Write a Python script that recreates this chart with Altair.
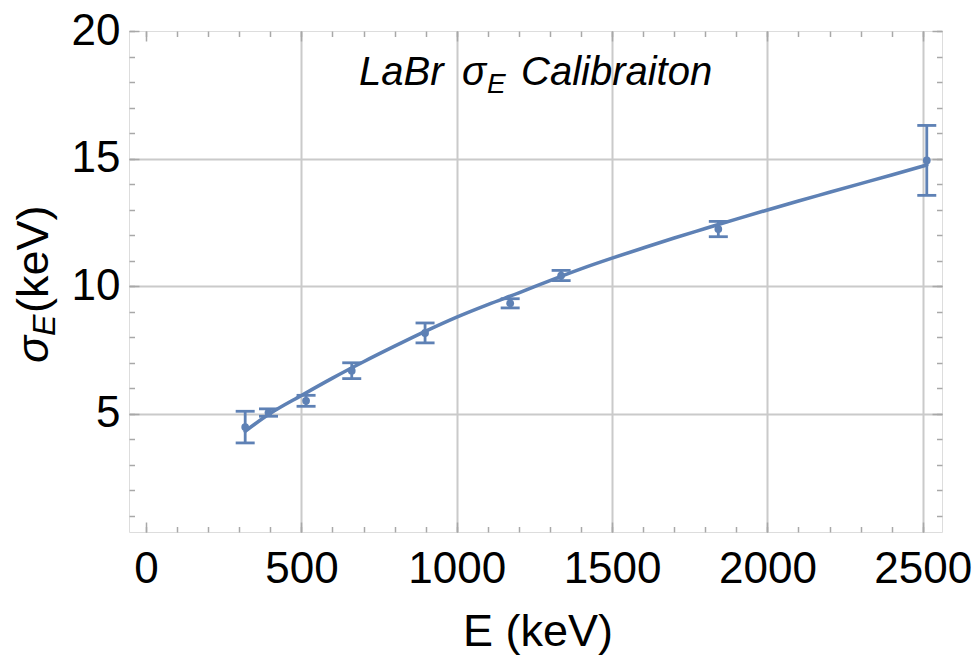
import altair as alt
import pandas as pd

# ---- data ----
energy = [319, 394, 515, 662, 898, 1172, 1336, 1842, 2513]
sigma = [4.48, 5.05, 5.51, 6.69, 8.17, 9.33, 10.42, 12.24, 14.93]
sigma_err = [0.62, 0.145, 0.215, 0.31, 0.39, 0.18, 0.20, 0.30, 1.37]

fit_energy = [319, 400, 500, 600, 700, 800, 900, 1000, 1100, 1200, 1300, 1400,
              1500, 1600, 1700, 1800, 1900, 2000, 2100, 2200, 2300, 2400, 2513]
fit_sigma = [4.32, 5.02, 5.72, 6.40, 7.04, 7.65, 8.24, 8.79, 9.28, 9.74, 10.22, 10.68,
             11.10, 11.50, 11.89, 12.26, 12.63, 12.99, 13.34, 13.68, 14.02, 14.36, 14.75]

x_major = [0, 500, 1000, 1500, 2000, 2500]
x_grid = [500, 1000, 1500, 2000, 2500]
x_minor = list(range(0, 2501, 100))
y_major = [5, 10, 15, 20]
y_grid = [5, 10, 15]
y_minor = list(range(1, 21))

pts = pd.DataFrame({"E": energy, "S": sigma, "err": sigma_err})
pts["lo"] = pts["S"] - pts["err"]
pts["hi"] = pts["S"] + pts["err"]
fit = pd.DataFrame({"E": fit_energy, "S": fit_sigma})

BLUE = "#5E81B5"
GRID = "#cacaca"
FRAME = "#a8a8a8"
FONT = "Liberation Sans"

xscale = alt.Scale(domain=[-55, 2562], nice=False, zero=False)
yscale = alt.Scale(domain=[0.37, 20.0], nice=False, zero=False)


def axis_layer(x_axis, y_axis):
    return alt.Chart(fit).mark_line(opacity=0).encode(
        x=alt.X("E:Q", scale=xscale, axis=x_axis),
        y=alt.Y("S:Q", scale=yscale, axis=y_axis),
    )


def tick_axis(orient, values, size):
    return alt.Axis(orient=orient, values=values, offset=-size, tickSize=size,
                    ticks=True, labels=False, domain=False, grid=False, title=None,
                    tickColor=FRAME, tickWidth=1.5)


grid_layer = axis_layer(
    alt.Axis(orient="bottom", values=x_grid, grid=True, gridColor=GRID, gridWidth=2,
             labels=False, ticks=False, domain=False, title=None),
    alt.Axis(orient="left", values=y_grid, grid=True, gridColor=GRID, gridWidth=2,
             labels=False, ticks=False, domain=False, title=None),
)

label_layer = axis_layer(
    alt.Axis(orient="bottom", values=x_major, format="d", grid=False, ticks=False, tickSize=0,
             domain=False, title=None, labelFontSize=44, labelFont=FONT,
             labelColor="black", labelPadding=50, labelBaseline="alphabetic",
             labelFlush=False, labelOverlap=False),
    alt.Axis(orient="left", values=y_major, format="d", grid=False, ticks=False, tickSize=0,
             domain=False, title=None, labelFontSize=44, labelFont=FONT,
             labelColor="black", labelPadding=9, labelFlush=False, labelOverlap=False),
)

tick_major_bl = axis_layer(tick_axis("bottom", x_major, 10), tick_axis("left", y_major, 10))
tick_minor_bl = axis_layer(tick_axis("bottom", x_minor, 5.5), tick_axis("left", y_minor, 5.5))
tick_major_tr = axis_layer(tick_axis("top", x_major, 10), tick_axis("right", y_major, 10))
tick_minor_tr = axis_layer(tick_axis("top", x_minor, 5.5), tick_axis("right", y_minor, 5.5))

line = alt.Chart(fit).mark_line(color=BLUE, strokeWidth=3.6, strokeCap="round",
                                interpolate="monotone").encode(
    x=alt.X("E:Q", scale=xscale, axis=None),
    y=alt.Y("S:Q", scale=yscale, axis=None),
)

bars = alt.Chart(pts).mark_rule(color=BLUE, strokeWidth=2.8).encode(
    x=alt.X("E:Q", scale=xscale, axis=None),
    y=alt.Y("lo:Q", scale=yscale, axis=None),
    y2="hi:Q",
)
cap_lo = alt.Chart(pts).mark_tick(color=BLUE, orient="horizontal", size=19, thickness=2.8,
                                  opacity=1).encode(
    x=alt.X("E:Q", scale=xscale, axis=None),
    y=alt.Y("lo:Q", scale=yscale, axis=None),
)
cap_hi = alt.Chart(pts).mark_tick(color=BLUE, orient="horizontal", size=19, thickness=2.8,
                                  opacity=1).encode(
    x=alt.X("E:Q", scale=xscale, axis=None),
    y=alt.Y("hi:Q", scale=yscale, axis=None),
)
dots = alt.Chart(pts).mark_circle(color=BLUE, size=60, opacity=1).encode(
    x=alt.X("E:Q", scale=xscale, axis=None),
    y=alt.Y("S:Q", scale=yscale, axis=None),
)


def txt(s, x, y, size, style="normal", angle=0, align="left"):
    return alt.Chart(pd.DataFrame({"t": [s]})).mark_text(
        align=align, baseline="alphabetic", fontSize=size, fontStyle=style,
        angle=angle, color="black", font=FONT,
    ).encode(text="t:N", x=alt.value(x), y=alt.value(y))


texts = [
    # chart title (inside the frame)
    txt("LaBr", 230, 54, 40, "italic"),
    txt("σ", 333, 54, 40, "italic"),
    txt("E", 358, 62, 28, "italic"),
    txt("Calibraiton", 392, 54, 40, "italic"),
    # x title
    txt("E (keV)", 409, 615, 45, "normal", 0, "center"),
    # y title (rotated)
    txt("σ", -81, 332, 45, "italic", 270),
    txt("E", -74, 305, 32, "italic", 270),
    txt("(keV)", -81, 282, 45, "normal", 270),
]

chart = alt.layer(
    grid_layer, label_layer, tick_major_bl, tick_minor_bl, tick_major_tr, tick_minor_tr,
    line, bars, cap_lo, cap_hi, dots, *texts,
).resolve_axis(x="independent", y="independent").properties(
    width=813, height=501,
    autosize=alt.AutoSizeParams(type="none"),
    padding={"left": 121, "top": 23, "right": 30, "bottom": 127},
).configure_view(stroke=FRAME, strokeWidth=2).configure(font=FONT)

chart.save("out.html", embed_options={"renderer": "svg", "actions": False})
